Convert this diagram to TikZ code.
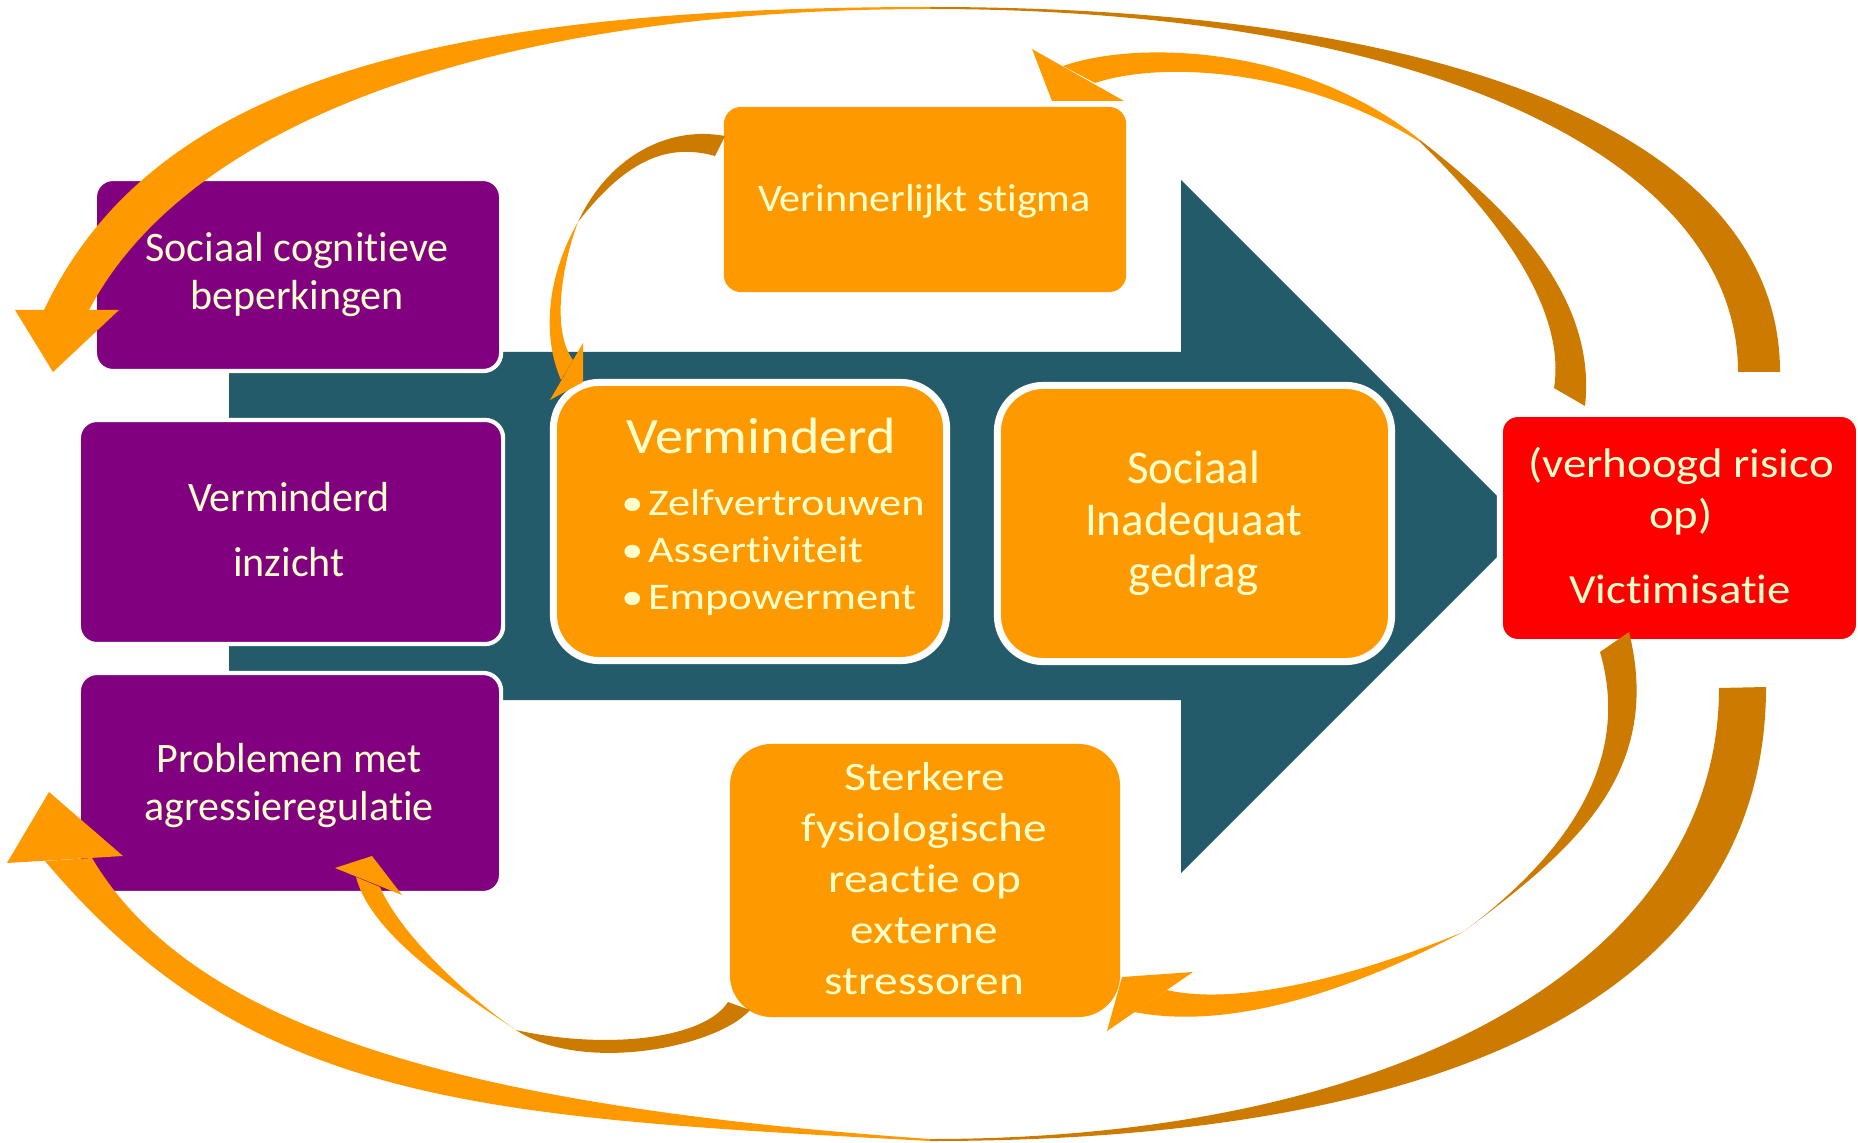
\documentclass[tikz,border=0pt]{standalone}
\usepackage{fontspec}
\defaultfontfeatures{Ligatures=NoCommon, RawFeature=-calt, RawFeature=-dlig}
\setmainfont{Carlito}
\newfontfamily\fN{Carlito}
\newfontfamily\fSa[FakeStretch=1.08]{Carlito}
\newfontfamily\fSb[FakeStretch=1.10]{Carlito}
\newfontfamily\fSc[FakeStretch=1.18]{Carlito}
\newfontfamily\fSd[FakeStretch=1.17]{Carlito}
\newfontfamily\fSe[FakeStretch=1.13]{Carlito}
\newcommand\fPur{\fN\fontsize{11.95pt}{14pt}\selectfont}
\newcommand\fStig{\fSa\fontsize{11.10pt}{13pt}\selectfont}
\newcommand\fTitle{\fSb\fontsize{14.51pt}{17pt}\selectfont}
\newcommand\fBul{\fSc\fontsize{10.70pt}{13pt}\selectfont}
\newcommand\fSoc{\fN\fontsize{13.37pt}{16pt}\selectfont}
\newcommand\fSter{\fSd\fontsize{11.49pt}{14pt}\selectfont}
\newcommand\fRed{\fSe\fontsize{11.78pt}{14pt}\selectfont}
% keeps t and i apart, so that no t-i ligature is formed
\newcommand\ti{t\kern0pt i}
\definecolor{shaftcol}{HTML}{235B6A}
\definecolor{purp}{HTML}{800080}
\definecolor{lightor}{HTML}{FF9900}
\definecolor{darkor}{HTML}{CD7B00}
\definecolor{redbox}{HTML}{FF0000}
\definecolor{cream}{HTML}{FFFFCC}
\begin{document}
\begin{tikzpicture}[x=0.01cm, y=-0.01cm,
  pbox/.style={fill=purp, draw=white, line width=1.2pt, rounded corners=0.18cm, inner sep=0pt},
  obox/.style={fill=lightor, draw=white, line width=2pt, rounded corners=0.46cm, inner sep=0pt},
  sbox/.style={fill=lightor, rounded corners=0.17cm, inner sep=0pt},
  rbox/.style={fill=redbox, draw=white, line width=1.7pt, rounded corners=0.18cm, inner sep=0pt},
  txt/.style={anchor=base, inner sep=0pt, outer sep=0pt, text=cream},
  txtw/.style={anchor=base west, inner sep=0pt, outer sep=0pt, text=cream},
  front/.style={fill=lightor},
  back/.style={fill=darkor}]
\useasboundingbox (0,0) rectangle (1858,1143);
\fill[white] (0,0) rectangle (1858,1143);

% broad arrow in the background
\fill[shaftcol] (229,352) -- (1181,352) -- (1181,180) -- (1527.5,526.5) -- (1181,873) -- (1181,700) -- (229,700) -- cycle;

% boxes
\node[pbox, minimum width=4.06cm, minimum height=1.92cm] (scb) at (298,275) {};
\node[pbox, minimum width=4.24cm, minimum height=2.24cm] (vi) at (291,532) {};
\node[pbox, minimum width=4.22cm, minimum height=2.20cm] (pma) at (290,783) {};
\node[sbox, minimum width=4.02cm, minimum height=1.85cm] (stig) at (925,199.5) {};
\node[obox, minimum width=3.93cm, minimum height=2.78cm] (vmd) at (750,521.5) {};
\node[obox, minimum width=3.94cm, minimum height=2.76cm] (sig) at (1194.5,523.5) {};
\node[obox, draw=none, rounded corners=0.42cm, minimum width=3.90cm, minimum height=2.73cm] (ster) at (925,880.5) {};
\node[rbox, minimum width=3.59cm, minimum height=2.28cm] (vic) at (1679.5,528) {};

% texts
\node[txt, font=\fPur] (scb1) at (297,262) {Sociaal cogni\ti eve};
\node[txt, font=\fPur] (scb2) at (297,310) {beperkingen};
\node[txt, font=\fPur] (vi1) at (289,511) {Verminderd};
\node[txt, font=\fPur] (vi2) at (289,576) {inzicht};
\node[txt, font=\fPur] (pma1) at (289,772) {Problemen met};
\node[txt, font=\fPur] (pma2) at (289,820) {agressieregula\ti e};
\node[txt, font=\fStig] (stig1) at (924.5,212) {Verinnerlijkt stigma};
\node[txt, font=\fTitle] (vmd0) at (761,453) {Verminderd};
\node[txt, font=\fBul] (b1) at (632.5,515) {•};
\node[txt, font=\fBul] (b2) at (632.5,562) {•};
\node[txt, font=\fBul] (b3) at (632.5,609) {•};
\node[txtw, font=\fBul] (vmd1) at (648,515) {Zelfvertrouwen};
\node[txtw, font=\fBul] (vmd2) at (648,562) {Asser\ti viteit};
\node[txtw, font=\fBul] (vmd3) at (648,609) {Empowerment};
\node[txt, font=\fSoc] (sig1) at (1193.5,483) {Sociaal};
\node[txt, font=\fSoc] (sig2) at (1193.5,535) {Inadequaat};
\node[txt, font=\fSoc] (sig3) at (1193.5,587) {gedrag};
\node[txt, font=\fSter] (ster1) at (924.5,790) {Sterkere};
\node[txt, font=\fSter] (ster2) at (924.5,841) {fysiologische};
\node[txt, font=\fSter] (ster3) at (924.5,892) {reac\ti e op};
\node[txt, font=\fSter] (ster4) at (924.5,943) {externe};
\node[txt, font=\fSter] (ster5) at (924.5,994) {stressoren};
\node[txt, font=\fRed] (vic1) at (1681,477) {(verhoogd risico};
\node[txt, font=\fRed] (vic2) at (1681,528) {op)};
\node[txt, font=\fRed] (vic3) at (1680,603) {Vic\ti misa\ti e};

% outer arc over the top: victimisatie -> sociaal cognitieve beperkingen
\fill[back] (1780,372) .. controls (1780,142) and (1466,7) .. (930,7)
  -- (930,9) .. controls (1415,9) and (1738,154) .. (1738,372) -- cycle;
\fill[front] (930,7) .. controls (430,7) and (151.5,83.75) .. (44,310)
  -- (89,310) .. controls (191.5,115.3) and (510,9) .. (930,9) -- cycle;
\fill[front] (15,310) -- (53,372) -- (119,310) -- cycle;

% inner arc over the top: victimisatie -> verinnerlijkt stigma
\fill[back] (1420,140) .. controls (1497,200) and (1598,290) .. (1585,406)
  -- (1554,388) .. controls (1568,300) and (1480,200) .. (1420,142) -- cycle;
\fill[front] (1420,140) .. controls (1303,45.5) and (1138,39.6) .. (1063,66)
  -- (1095,83) .. controls (1161.5,60.6) and (1301,68) .. (1420,142) -- cycle;
\fill[front] (1032,49) -- (1052,101) -- (1124,101) -- cycle;

% outer arc along the bottom: victimisatie -> agressieregulatie
\fill[back] (1766,687) .. controls (1766,982) and (1473,1141) .. (930,1141)
  -- (930,1139) .. controls (1403,1139) and (1719,959) .. (1719,688) -- cycle;
\fill[front] (930,1141) .. controls (480,1117) and (251,1105.5) .. (45,861)
  -- (92,858) .. controls (194,1030) and (470,1107) .. (930,1139) -- cycle;
\fill[front] (7,863) -- (49,792) -- (123,856) -- cycle;

% stigma -> verminderd
\fill[back] (725,136) .. controls (666,125) and (607,159) .. (578,222)
  .. controls (621,167) and (662,141) .. (715,156) -- cycle;
\fill[front] (578,222) .. controls (548,274) and (541,334) .. (561,380)
  -- (573,360) .. controls (552,332) and (560.5,269) .. (578,222) -- cycle;
\fill[front] (583,343) -- (550,400) -- (583,382) -- cycle;

% stressoren -> agressieregulatie
\fill[back] (750,1010) .. controls (717,1047.5) and (582.4,1074) .. (516,1030)
  .. controls (603.75,1049.8) and (703.7,1039.8) .. (728,1002) -- cycle;
\fill[front] (516,1030) .. controls (458,991.5) and (371,935) .. (356,877)
  -- (380,887) .. controls (399.5,933) and (466,996) .. (516,1030) -- cycle;
\fill[front] (335,868) -- (372,856) -- (402,895) -- cycle;

% victimisatie -> stressoren
\fill[back] (1629,632) .. controls (1665,777.5) and (1567,854) .. (1463,932)
  .. controls (1559,860) and (1633.6,767) .. (1600,652) -- cycle;
\fill[front] (1463,932) .. controls (1352,990) and (1232,1031) .. (1134,1012)
  -- (1167,990) .. controls (1235,1006) and (1352,978) .. (1463,932) -- cycle;
\fill[front] (1107,1031) -- (1122,977) -- (1193,972) -- cycle;
\end{tikzpicture}
\end{document}
